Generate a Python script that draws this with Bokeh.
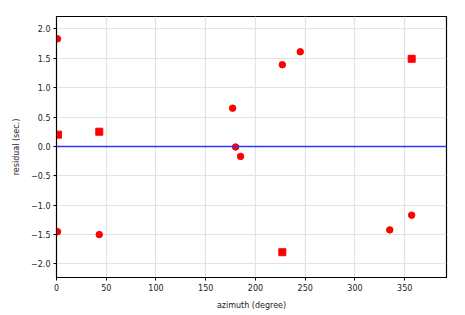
from bokeh.plotting import figure
from bokeh.models import FixedTicker, Span
from bokeh.embed import file_html
from bokeh.resources import INLINE

circ_az = [1, 1, 43, 177, 180, 185, 227, 245, 335, 357]
circ_res = [1.83, -1.45, -1.50, 0.65, -0.01, -0.17, 1.39, 1.61, -1.42, -1.17]
sq_az = [1.5, 43, 227, 357]
sq_res = [0.20, 0.25, -1.80, 1.49]
x_ticks = [0, 50, 100, 150, 200, 250, 300, 350]
y_ticks = [-2.0, -1.5, -1.0, -0.5, 0.0, 0.5, 1.0, 1.5, 2.0]

p = figure(width=465, height=315, frame_width=390, frame_height=261,
           min_border_left=56, min_border_top=16, min_border_right=19, min_border_bottom=38,
           x_range=(0, 392), y_range=(-2.23, 2.21),
           output_backend="svg", toolbar_location=None)
p.background_fill_color = "white"
p.border_fill_color = "white"
p.outline_line_color = "black"
p.outline_line_width = 1.2

p.xaxis.ticker = FixedTicker(ticks=x_ticks)
p.yaxis.ticker = FixedTicker(ticks=y_ticks)
p.yaxis.major_label_overrides = {t: (("\u2212" if t < 0 else "") + f"{abs(t):.1f}") for t in y_ticks}
for ax in (p.xaxis[0], p.yaxis[0]):
    ax.minor_tick_line_color = None
    ax.major_tick_in = 0
    ax.major_tick_out = 3
    ax.axis_line_color = "black"
    ax.major_tick_line_color = "black"
    ax.major_label_text_font = "DejaVu Sans"
    ax.major_label_text_font_size = "8px"
    ax.major_label_text_color = "#222222"
    ax.axis_label_text_font = "DejaVu Sans"
    ax.axis_label_text_font_size = "8px"
    ax.axis_label_text_font_style = "normal"
    ax.axis_label_text_color = "#222222"
p.xaxis.axis_label = "azimuth (degree)"
p.yaxis.axis_label = "residual (sec.)"
p.xaxis.major_label_standoff = 3
p.yaxis.major_label_standoff = 3
p.xaxis.axis_label_standoff = 7
p.yaxis.axis_label_standoff = 7

p.grid.grid_line_color = "#e2e2e2"
p.grid.grid_line_width = 1.2

p.add_layout(Span(location=0, dimension="width", line_color="#3333ff", line_width=1.5))

p.scatter(circ_az, circ_res, marker="circle", size=6.5, fill_color="red", line_color="red")
p.scatter(sq_az, sq_res, marker="square", size=7, fill_color="red", line_color="red")

open("out.html", "w").write(file_html(p, INLINE))
